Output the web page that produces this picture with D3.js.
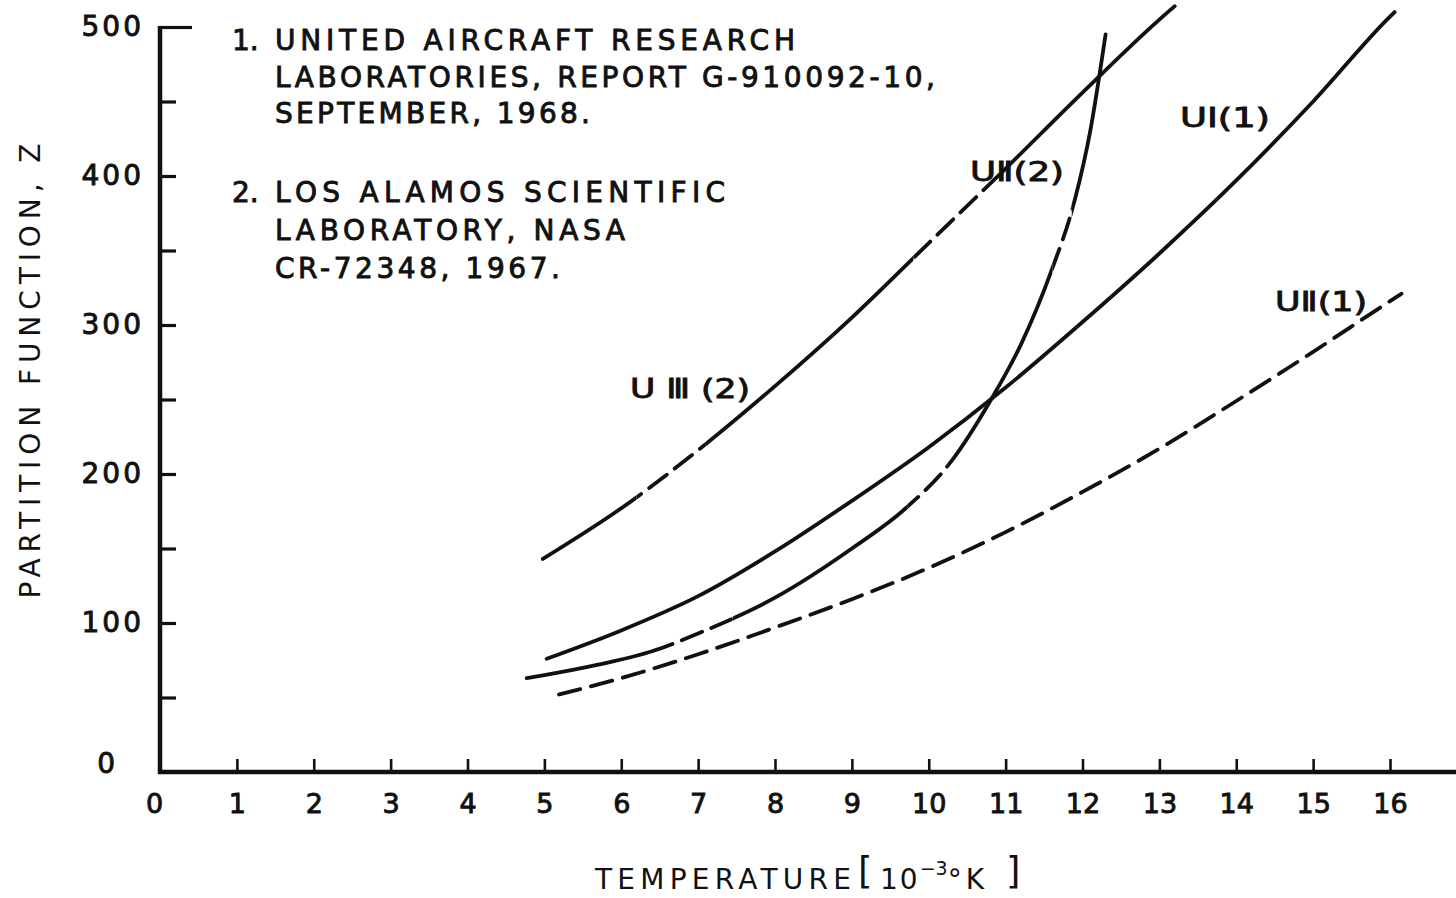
<!DOCTYPE html>
<html>
<head>
<meta charset="utf-8">
<script src="https://cdn.jsdelivr.net/npm/d3@7"></script>
<style>
  html, body { margin: 0; padding: 0; background: #ffffff; }
  svg { display: block; }
  text { font-family: "DejaVu Sans", sans-serif; fill: #111; }
  .lettered { stroke: #111; stroke-width: 0.9px; paint-order: stroke; }
</style>
</head>
<body>
<svg id="chart" width="1456" height="898"></svg>
<script>
// Partition function of uranium species vs temperature (10^3 K)

// U I, reference 1
const tempUI1 = [5.03, 6, 7, 8, 9, 10, 11, 12, 13, 14, 15, 16, 16.06];
const zUI1    = [76, 95, 118, 148, 182, 218, 258, 302, 348, 397, 450, 507, 510];

// U II, reference 1
const tempUII1 = [5.19, 6, 7, 8, 9, 10, 11, 12, 13, 14, 15, 16, 16.15];
const zUII1    = [52, 63, 79, 97, 116, 137, 161, 188, 217, 249, 282, 316, 321];

// U II, reference 2
const tempUII2 = [4.77, 5, 5.7, 6.4, 7, 8, 9, 9.7, 10.3, 10.8, 11.2, 11.6, 11.9, 12.1, 12.3];
const zUII2    = [63, 65, 72, 81, 93, 117, 150, 177, 209, 249, 287, 337, 384, 430, 495];

// U III, reference 2
const tempUIII2 = [4.98, 6, 7, 8, 9, 10, 11, 12, 13, 13.2];
const zUIII2    = [143, 177, 216, 259, 305, 355, 405, 456, 505, 514];

// temperature ranges where the reference-2 curves are drawn broken
const brokenUII2  = [[6.4, 7.45], [9.72, 10.25], [11.61, 11.86]];
const brokenUIII2 = [[6.2, 7.1], [9.8, 10.95]];

const curveNames = ["U\u2160(1)", "U\u2161(1)", "U\u2161(2)", "U \u2162 (2)"];

const xTickValues = d3.range(0, 17);
const yTickValues = d3.range(0, 501, 50);

const referenceLines = [
  ["1.", "UNITED AIRCRAFT RESEARCH"],
  ["",   "LABORATORIES, REPORT G-910092-10,"],
  ["",   "SEPTEMBER, 1968."],
  ["2.", "LOS ALAMOS  SCIENTIFIC"],
  ["",   "LABORATORY,  NASA"],
  ["",   "CR-72348, 1967."]
];

const xTitle = "TEMPERATURE";
const yTitle = "PARTITION  FUNCTION, Z";

// ---------------------------------------------------------------
const W = 1456, H = 898;
const svg = d3.select("#chart");
const ink = "#111";

const x = d3.scaleLinear().domain([0, 16]).range([160, 1390]);
const y = d3.scaleLinear().domain([0, 500]).range([772, 27]);

// axes
const xAxis = d3.axisBottom(x)
  .tickValues(xTickValues)
  .tickSize(-13)
  .tickPadding(22)
  .tickFormat(d3.format("d"));

const gx = svg.append("g")
  .attr("transform", `translate(0,${y(0)})`)
  .call(xAxis);
gx.select(".domain").remove();
gx.selectAll(".tick line").attr("stroke", ink).attr("stroke-width", 2.6);
gx.selectAll(".tick").filter(d => d === 0).select("line").remove();
gx.selectAll(".tick").filter(d => d === 0).select("text").attr("dx", -6);
gx.selectAll(".tick text")
  .attr("class", "lettered")
  .attr("font-size", 27)
  .attr("font-family", "DejaVu Sans, sans-serif")
  .attr("fill", ink);

const yAxis = d3.axisLeft(y)
  .tickValues(yTickValues)
  .tickSize(-16)
  .tickPadding(16)
  .tickFormat(d => d % 100 === 0 ? d : "");

const gy = svg.append("g")
  .attr("transform", `translate(${x(0)},0)`)
  .call(yAxis);
gy.select(".domain").remove();
gy.selectAll(".tick line").attr("stroke", ink).attr("stroke-width", 3.2);
gy.selectAll(".tick").filter(d => d === 0).select("line").remove();
gy.selectAll(".tick").filter(d => d === 500).select("line").attr("x2", 32);
gy.selectAll(".tick").filter(d => d === 0).select("text")
  .attr("dx", -26).attr("dy", "0.0em");
gy.selectAll(".tick text")
  .attr("class", "lettered")
  .attr("font-size", 28)
  .attr("letter-spacing", 3)
  .attr("font-family", "DejaVu Sans, sans-serif")
  .attr("fill", ink);

// axis lines
svg.append("line")
  .attr("x1", x(0)).attr("x2", x(0))
  .attr("y1", y(500) - 1).attr("y2", y(0) + 2)
  .attr("stroke", ink).attr("stroke-width", 4.5);
svg.append("line")
  .attr("x1", x(0) - 2).attr("x2", W)
  .attr("y1", y(0)).attr("y2", y(0))
  .attr("stroke", ink).attr("stroke-width", 4.5);

// curves
const line = d3.line()
  .x(d => x(d[0]))
  .y(d => y(d[1]))
  .curve(d3.curveMonotoneX);

const defs = svg.append("defs");

function addClip(id, spans) {
  const cp = defs.append("clipPath").attr("id", id);
  spans.forEach(s => {
    cp.append("rect")
      .attr("x", x(s[0])).attr("width", x(s[1]) - x(s[0]))
      .attr("y", 0).attr("height", H);
  });
}

function complement(spans, lo, hi) {
  const out = [];
  let start = lo;
  spans.forEach(s => { out.push([start, s[0]]); start = s[1]; });
  out.push([start, hi]);
  return out;
}

function drawCurve(temps, values, broken, key) {
  const pts = temps.map((t, i) => [t, values[i]]);
  const common = sel => sel
    .attr("fill", "none")
    .attr("stroke", ink)
    .attr("stroke-width", 3.8)
    .attr("stroke-linecap", "round")
    .attr("d", line(pts));
  if (!broken) {
    svg.append("path").call(common);
    return;
  }
  addClip(key + "-solid", complement(broken, -1, 17));
  addClip(key + "-broken", broken);
  svg.append("path").call(common).attr("clip-path", `url(#${key}-solid)`);
  svg.append("path").call(common)
    .attr("stroke-dasharray", "22 10")
    .attr("clip-path", `url(#${key}-broken)`);
}

drawCurve(tempUI1, zUI1, null, "ui1");
drawCurve(tempUIII2, zUIII2, brokenUIII2, "uiii2");
drawCurve(tempUII2, zUII2, brokenUII2, "uii2");

// U II (1): dashed throughout
svg.append("path")
  .attr("fill", "none")
  .attr("stroke", ink)
  .attr("stroke-width", 3.8)
  .attr("stroke-linecap", "round")
  .attr("stroke-dasharray", "22 11")
  .attr("d", line(tempUII1.map((t, i) => [t, zUII1[i]])));

// curve labels
const labelPlaces = [
  { x: 1180, y: 127, w: 90 },
  { x: 1275, y: 311, w: 92 },
  { x: 970,  y: 181, w: 94 },
  { x: 630,  y: 398, w: 120 }
];
curveNames.forEach((name, i) => {
  const p = labelPlaces[i];
  svg.append("text")
    .attr("class", "lettered")
    .attr("x", p.x).attr("y", p.y)
    .attr("font-size", 27)
    .attr("textLength", p.w)
    .attr("lengthAdjust", "spacingAndGlyphs")
    .text(name);
});

// reference notes
const noteBaselines = [50, 87, 123, 202, 240, 278];
const noteWidths = [520, 660, 315, 450, 350, 285];
referenceLines.forEach((r, i) => {
  if (r[0]) {
    svg.append("text")
      .attr("class", "lettered")
      .attr("x", 232).attr("y", noteBaselines[i])
      .attr("font-size", 28)
      .text(r[0]);
  }
  svg.append("text")
    .attr("class", "lettered")
    .attr("x", 275).attr("y", noteBaselines[i])
    .attr("font-size", 28)
    .attr("textLength", noteWidths[i])
    .attr("lengthAdjust", "spacing")
    .text(r[1]);
});

// axis titles
svg.append("text")
  .attr("transform", "translate(40,371) rotate(-90)")
  .attr("text-anchor", "middle")
  .attr("font-size", 28)
  .attr("textLength", 455)
  .attr("lengthAdjust", "spacing")
  .text(yTitle);

const xt = svg.append("text")
  .attr("x", 595).attr("y", 889)
  .attr("font-size", 28);
xt.append("tspan").attr("textLength", 256).attr("lengthAdjust", "spacing").text(xTitle);
xt.append("tspan").attr("x", 880).attr("dy", 0).attr("letter-spacing", 2).text("10");
xt.append("tspan").attr("font-size", 19).attr("dy", -14).text("\u22123");
xt.append("tspan").attr("font-size", 28).attr("dy", 14).attr("letter-spacing", 4).text("\u00B0K");

// unit brackets
svg.append("text").attr("x", 858).attr("y", 884).attr("font-size", 37).text("[");
svg.append("text").attr("x", 1006).attr("y", 884).attr("font-size", 37).text("]");
</script>
</body>
</html>
